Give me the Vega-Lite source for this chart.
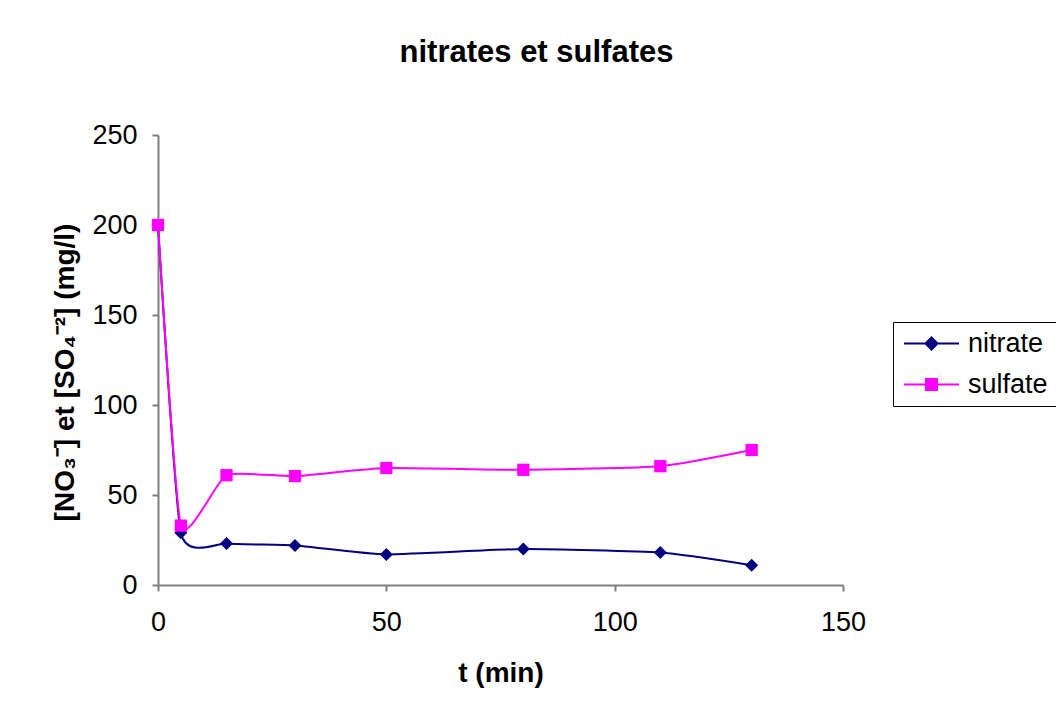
{
  "$schema": "https://vega.github.io/schema/vega-lite/v6.json",
  "width": 685,
  "height": 450,
  "autosize": {"type": "none"},
  "padding": {"left": 158, "top": 135, "right": 213, "bottom": 130},
  "background": "white",
  "title": {
    "text": "nitrates et sulfates",
    "font": "Liberation Sans",
    "fontSize": 31,
    "fontWeight": "bold",
    "color": "#000000",
    "anchor": "middle",
    "frame": "group",
    "dx": 36,
    "offset": 52
  },
  "config": {
    "view": {"stroke": null},
    "axis": {
      "grid": false,
      "domainColor": "#808080",
      "domainWidth": 2,
      "tickColor": "#808080",
      "tickWidth": 2,
      "tickSize": 6,
      "labelFont": "Liberation Sans",
      "labelFontSize": 27,
      "labelColor": "#000000",
      "titleFont": "Liberation Sans",
      "titleFontSize": 28,
      "titleFontWeight": "bold",
      "titleColor": "#000000"
    }
  },
  "data": {
    "values": [
      {"t": 0, "c": 200, "ion": "nitrate"},
      {"t": 5, "c": 29, "ion": "nitrate"},
      {"t": 15, "c": 23, "ion": "nitrate"},
      {"t": 30, "c": 22, "ion": "nitrate"},
      {"t": 50, "c": 17, "ion": "nitrate"},
      {"t": 80, "c": 20, "ion": "nitrate"},
      {"t": 110, "c": 18, "ion": "nitrate"},
      {"t": 130, "c": 11, "ion": "nitrate"},
      {"t": 0, "c": 200, "ion": "sulfate"},
      {"t": 5, "c": 33, "ion": "sulfate"},
      {"t": 15, "c": 61, "ion": "sulfate"},
      {"t": 30, "c": 60.5, "ion": "sulfate"},
      {"t": 50, "c": 65, "ion": "sulfate"},
      {"t": 80, "c": 64, "ion": "sulfate"},
      {"t": 110, "c": 66, "ion": "sulfate"},
      {"t": 130, "c": 75, "ion": "sulfate"}
    ]
  },
  "encoding": {
    "x": {
      "field": "t",
      "type": "quantitative",
      "scale": {"domain": [0, 150], "nice": false, "zero": true},
      "axis": {"values": [0, 50, 100, 150], "title": "t (min)", "labelPadding": 18, "titlePadding": 24, "labelFlush": false}
    },
    "y": {
      "field": "c",
      "type": "quantitative",
      "scale": {"domain": [0, 250], "nice": false},
      "axis": {"values": [0, 50, 100, 150, 200, 250], "title": "[NO₃⁻] et [SO₄⁻²] (mg/l)", "labelPadding": 15, "titlePadding": 12, "titleAlign": "center", "titleY": 237, "labelFlush": false}
    },
    "color": {
      "field": "ion",
      "type": "nominal",
      "scale": {"domain": ["nitrate", "sulfate"], "range": ["#000080", "#FF00FF"]},
      "legend": {
        "orient": "none",
        "legendX": 735,
        "legendY": 187,
        "title": null,
        "strokeColor": "#000000",
        "fillColor": "#FFFFFF",
        "padding": 8,
        "labelFont": "Liberation Sans",
        "labelFontSize": 27,
        "labelColor": "#000000",
        "symbolSize": 400,
        "symbolStrokeWidth": 2,
        "symbolOpacity": 1,
        "symbolOffset": 17,
        "labelOffset": 23,
        "rowPadding": 13,
        "encode": {
          "symbols": {
            "update": {
              "shape": {"signal": "datum.value === 'nitrate' ? 'M-2.75,0H2.75M0,-0.6L0.6,0L0,0.6L-0.6,0Z' : 'M-2.75,0H2.75M-0.55,-0.55H0.55V0.55H-0.55Z'"},
              "fill": {"signal": "datum.value === 'nitrate' ? '#000080' : '#FF00FF'"},
              "stroke": {"signal": "datum.value === 'nitrate' ? '#000080' : '#FF00FF'"}
            }
          }
        }
      }
    }
  },
  "layer": [
    {
      "mark": {"type": "line", "interpolate": "cardinal", "tension": 0.5, "strokeWidth": 2},
      "encoding": {"order": {"field": "t", "type": "quantitative"}}
    },
    {
      "transform": [{"filter": "datum.ion === 'nitrate'"}],
      "mark": {"type": "point", "shape": "diamond", "filled": true, "opacity": 1, "size": 170}
    },
    {
      "transform": [{"filter": "datum.ion === 'sulfate'"}],
      "mark": {"type": "point", "shape": "square", "filled": true, "opacity": 1, "size": 150}
    }
  ]
}
